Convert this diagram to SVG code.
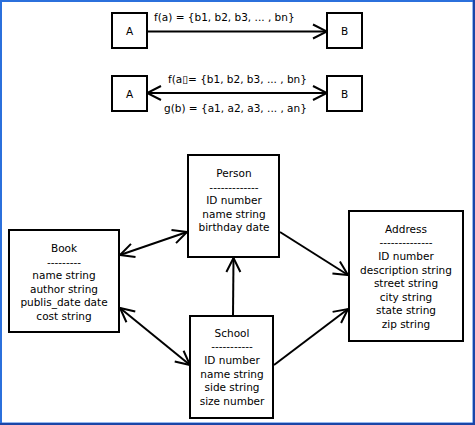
<svg xmlns="http://www.w3.org/2000/svg" width="475" height="425" viewBox="0 0 475 425">
<style>
.box{fill:#fff;stroke:#000;stroke-width:2}
.t{font-family:"DejaVu Sans","Liberation Sans",sans-serif;font-size:10.5px;fill:#000;text-anchor:middle}
.tl{font-family:"DejaVu Sans","Liberation Sans",sans-serif;font-size:10.5px;fill:#000}
.c{stroke:#000;stroke-width:2;fill:none}
</style>
<defs>
<marker id="ah" viewBox="-16 -9 18 18" refX="0" refY="0" markerWidth="18" markerHeight="18" markerUnits="userSpaceOnUse" orient="auto-start-reverse">
<path d="M-14,-7 L0,0 L-14,7" fill="none" stroke="#000" stroke-width="2"/>
</marker>
</defs>
<rect x="0" y="0" width="475" height="425" fill="#fff"/>
<rect x="1" y="1" width="472.5" height="422.5" fill="none" stroke="#2b70dc" stroke-width="2"/>
<path d="M474,0 V424 H0" fill="none" stroke="#1a46a8" stroke-width="2"/>

<g id="connectors">
<line class="c" x1="147" y1="31.5" x2="327" y2="31.5" marker-end="url(#ah)"/>
<line class="c" x1="147" y1="93" x2="327" y2="93" marker-start="url(#ah)" marker-end="url(#ah)"/>
<line class="c" x1="120" y1="255" x2="187" y2="232" marker-start="url(#ah)" marker-end="url(#ah)"/>
<line class="c" x1="120" y1="308" x2="190" y2="365" marker-start="url(#ah)" marker-end="url(#ah)"/>
<line class="c" x1="233" y1="316" x2="233.5" y2="258" marker-end="url(#ah)"/>
<line class="c" x1="280" y1="232" x2="348" y2="275" marker-end="url(#ah)"/>
<line class="c" x1="274" y1="365" x2="348" y2="309" marker-end="url(#ah)"/>
<text class="tl" x="154" y="21">f(a) = {b1, b2, b3, ... , bn}</text>
<text class="tl" x="168" y="83">f(a▯= {b1, b2, b3, ... , bn}</text>
<text class="tl" x="164" y="111.5">g(b) = {a1, a2, a3, ... , an}</text>
</g>

<g id="A1"><rect class="box" x="112" y="13" width="35" height="35"/><text class="t" x="129.5" y="34.5">A</text></g>
<g id="B1"><rect class="box" x="327" y="13" width="35" height="35"/><text class="t" x="344.5" y="34.5">B</text></g>
<g id="A2"><rect class="box" x="112" y="76" width="35" height="35"/><text class="t" x="129.5" y="97.5">A</text></g>
<g id="B2"><rect class="box" x="327" y="76" width="35" height="35"/><text class="t" x="344.5" y="97.5">B</text></g>

<g id="Book">
<rect class="box" x="9" y="230" width="110" height="102"/>
<text class="t" x="64" y="252">Book</text>
<text class="t" x="64" y="265.6">---------</text>
<text class="t" x="64" y="279.2">name string</text>
<text class="t" x="64" y="292.8">author string</text>
<text class="t" x="64" y="306.4">publis_date date</text>
<text class="t" x="64" y="320">cost string</text>
</g>

<g id="Person">
<rect class="box" x="188" y="155" width="91" height="102"/>
<text class="t" x="234" y="177">Person</text>
<text class="t" x="234" y="190.6">-------------</text>
<text class="t" x="234" y="204.2">ID number</text>
<text class="t" x="234" y="217.8">name string</text>
<text class="t" x="234" y="231.4">birthday date</text>
</g>

<g id="Address">
<rect class="box" x="349" y="211" width="114" height="130"/>
<text class="t" x="406" y="232.7">Address</text>
<text class="t" x="406" y="246.3">--------------</text>
<text class="t" x="406" y="259.9">ID number</text>
<text class="t" x="406" y="273.5">description string</text>
<text class="t" x="406" y="287.1">street string</text>
<text class="t" x="406" y="300.7">city string</text>
<text class="t" x="406" y="314.3">state string</text>
<text class="t" x="406" y="327.9">zip string</text>
</g>

<g id="School">
<rect class="box" x="190" y="316" width="83" height="102"/>
<text class="t" x="232" y="336.7">School</text>
<text class="t" x="232" y="350.3">-----------</text>
<text class="t" x="232" y="363.9">ID number</text>
<text class="t" x="232" y="377.5">name string</text>
<text class="t" x="232" y="391.1">side string</text>
<text class="t" x="232" y="404.7">size number</text>
</g>
</svg>
